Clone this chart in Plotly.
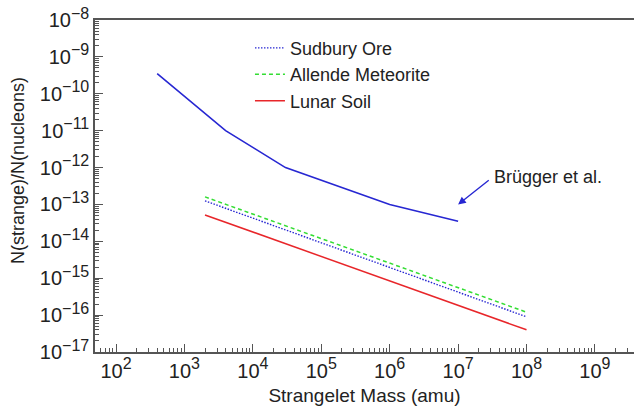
import plotly.graph_objects as go

# Strangelet abundance limits vs. mass
brugger_mass = [400, 4e3, 3e4, 1e6, 1e7]
brugger_limit = [3.5e-10, 1e-11, 1e-12, 1e-13, 3.5e-14]

search_mass = [2e3, 1e8]
sudbury_limit = [1.25e-13, 9e-17]
allende_limit = [1.6e-13, 1.2e-16]
lunar_limit = [5.2e-14, 4e-17]

x_tick_vals = [1e2, 1e3, 1e4, 1e5, 1e6, 1e7, 1e8, 1e9]
x_tick_exps = ["2", "3", "4", "5", "6", "7", "8", "9"]
y_tick_vals = [1e-17, 1e-16, 1e-15, 1e-14, 1e-13, 1e-12, 1e-11, 1e-10, 1e-9, 1e-8]
y_tick_exps = ["−17", "−16", "−15", "−14", "−13", "−12", "−11", "−10", "−9", "−8"]

SUP = "<sup><span style='font-size:16px'>{}</span></sup>"
x_tick_text = ["10" + SUP.format(e) for e in x_tick_exps]
y_tick_text = ["10" + SUP.format(e) for e in y_tick_exps]

BLUE = "#2727d2"
GREEN = "#33dd33"
RED = "#e8262a"
AXIS = "#555555"
TEXT = "#222222"
FONT = "Liberation Sans, Arial, sans-serif"

fig = go.Figure()
fig.add_trace(go.Scatter(x=brugger_mass, y=brugger_limit, mode="lines",
                         line=dict(color=BLUE, width=1.6), showlegend=False))
fig.add_trace(go.Scatter(x=search_mass, y=sudbury_limit, mode="lines", name="Sudbury Ore",
                         line=dict(color=BLUE, width=1.4, dash="1.5px,1.5px")))
fig.add_trace(go.Scatter(x=search_mass, y=allende_limit, mode="lines", name="Allende Meteorite",
                         line=dict(color=GREEN, width=1.5, dash="4px,3px")))
fig.add_trace(go.Scatter(x=search_mass, y=lunar_limit, mode="lines", name="Lunar Soil",
                         line=dict(color=RED, width=1.5)))

# arrow pointing at the end of the Brügger curve
fig.add_annotation(x=7.0, y=-13.0, xref="x", yref="y",
                   ax=7.47, ay=-12.31, axref="x", ayref="y",
                   text="", showarrow=True, arrowhead=2, arrowsize=1.1,
                   arrowwidth=1.4, arrowcolor=BLUE)
fig.add_annotation(x=7.5, y=-12.25, xref="x", yref="y", text="Brügger et al.",
                   showarrow=False, xanchor="left", yanchor="middle",
                   font=dict(size=18, color=TEXT, family=FONT))

# vertical axis title
fig.add_annotation(x=-0.1429, y=0.548, xref="paper", yref="paper",
                   text="N(strange)/N(nucleons)", textangle=-90,
                   showarrow=False, xanchor="center", yanchor="middle",
                   font=dict(size=18, color=TEXT, family=FONT))

fig.update_xaxes(type="log", range=[1.693, 9.571],
                 tickmode="array", tickvals=x_tick_vals, ticktext=x_tick_text,
                 ticks="inside", ticklen=8, tickwidth=1.2, tickcolor=AXIS,
                 minor=dict(ticks="inside", ticklen=4, tickwidth=1, tickcolor=AXIS,
                            dtick="D1", showgrid=False),
                 showline=True, linecolor=AXIS, linewidth=1.5, mirror=True,
                 showgrid=False, zeroline=False,
                 tickfont=dict(size=20, color=TEXT, family=FONT),
                 title=dict(text="Strangelet Mass (amu)", standoff=8,
                            font=dict(size=19, color=TEXT, family=FONT)))
fig.update_yaxes(type="log", range=[-17, -8],
                 tickmode="array", tickvals=y_tick_vals, ticktext=y_tick_text,
                 ticks="inside", ticklen=8, tickwidth=1.2, tickcolor=AXIS,
                 minor=dict(ticks="inside", ticklen=4, tickwidth=1, tickcolor=AXIS,
                            dtick="D1", showgrid=False),
                 showline=True, linecolor=AXIS, linewidth=1.5,
                 showgrid=False, zeroline=False,
                 tickfont=dict(size=20, color=TEXT, family=FONT))

fig.update_layout(width=634, height=413,
                  margin=dict(l=95, r=0, t=20, b=61),
                  paper_bgcolor="white", plot_bgcolor="white",
                  legend=dict(x=0.2875, y=0.971, xanchor="left", yanchor="top",
                              bgcolor="rgba(0,0,0,0)", borderwidth=0,
                              tracegroupgap=0, itemwidth=30,
                              font=dict(size=18, color=TEXT, family=FONT)))

fig.write_html("out.html")
